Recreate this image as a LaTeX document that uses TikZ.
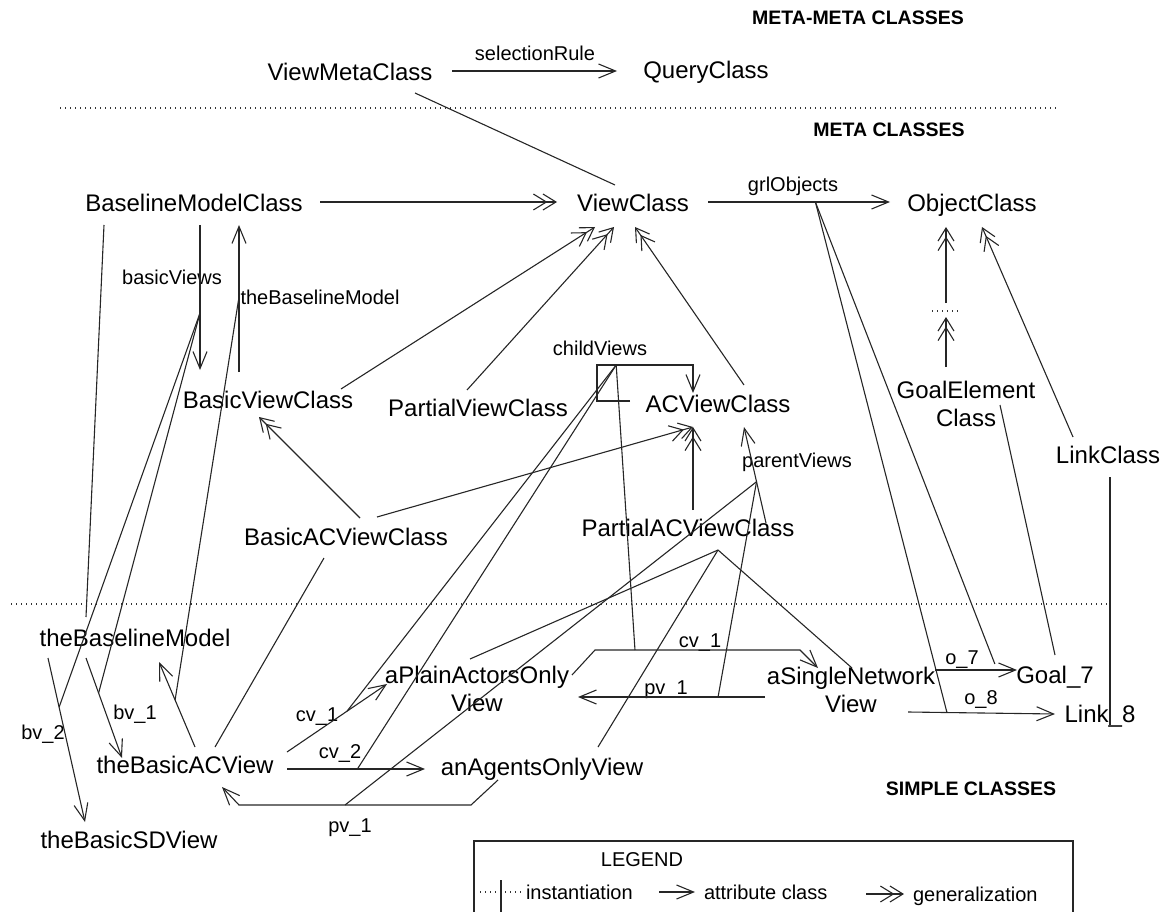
\documentclass[tikz,border=0pt]{standalone}
\usepackage{fontspec}
\setmainfont{Liberation Sans}
\usetikzlibrary{arrows.meta}
\begin{document}
\begin{tikzpicture}[x=1pt,y=-1pt,
  every node/.style={inner sep=0pt, outer sep=0pt},
  cls/.style={font=\fontsize{24}{28}\selectfont, text height=17pt, text depth=0pt},
  cls2/.style={font=\fontsize{24}{28}\selectfont, align=center},
  lbl/.style={font=\fontsize{20}{24}\selectfont, text height=14pt, text depth=0pt},
  hdr/.style={font=\fontsize{19.5}{23}\selectfont\bfseries, text height=14pt, text depth=0pt},
  con/.style={line width=1.1pt, color=black!85},
  attr/.style={con, -{Straight Barb[length=17pt,width=14pt]}},
  gen/.style={con, -{Straight Barb[length=13pt,width=16pt,sep=-5pt]Straight Barb[length=13pt,width=16pt]}},
  inst/.style={con},
  level/.style={line width=1.3pt, color=black!80, dash pattern=on 1.3pt off 3.7pt},
]
\useasboundingbox (0,0) rectangle (1170,912);

% level headings
\node[hdr] (hMM) at (858,18) {META-META CLASSES};
\node[hdr] (hM)  at (889,130) {META CLASSES};
\node[hdr] (hS)  at (971,788) {SIMPLE CLASSES};

% level separators
\draw[level] (60,108) -- (1058,108);
\draw[level] (11,604) -- (1107,604);

% classes
\node[cls] (vmc)   at (350,72)  {ViewMetaClass};
\node[cls] (qc)    at (706,70)  {QueryClass};
\node[cls] (bmc)   at (194,203) {BaselineModelClass};
\node[cls] (vc)    at (633,203) {ViewClass};
\node[cls] (oc)    at (972,203) {ObjectClass};
\node[cls] (bvc)   at (268,400) {BasicViewClass};
\node[cls] (pvc)   at (478,408) {PartialViewClass};
\node[cls] (acvc)  at (718,404) {ACViewClass};
\node[cls2] (gec)  at (966,404) {GoalElement\\Class};
\node[cls] (lc)    at (1108,455) {LinkClass};
\node[cls] (bacvc) at (346,537) {BasicACViewClass};
\node[cls] (pacvc) at (688,528) {PartialACViewClass};
\node[cls] (tbm)   at (135,638) {theBaselineModel};
\node[cls2] (papv) at (477,689) {aPlainActorsOnly\\View};
\node[cls2] (asnv) at (851,690) {aSingleNetwork\\View};
\node[cls] (g7)    at (1055,675) {Goal\_7};
\node[cls] (l8)    at (1100,714) {Link\_8};
\node[cls] (tbacv) at (185,765) {theBasicACView};
\node[cls] (aaov)  at (542,767) {anAgentsOnlyView};
\node[cls] (tbsdv) at (129,840) {theBasicSDView};

% attribute labels
\node[lbl] (lSel) at (535,54)  {selectionRule};
\node[lbl] (lGrl) at (793,185) {grlObjects};
\node[lbl] (lBv)  at (172,277) {basicViews};
\node[lbl] (lTbm) at (320,297) {theBaselineModel};
\node[lbl] (lCv)  at (600,348) {childViews};
\node[lbl] (lPv)  at (797,460) {parentViews};
\node[lbl] (lBv1) at (135,712) {bv\_1};
\node[lbl] (lBv2) at (43,732)  {bv\_2};
\node[lbl] (lCv1) at (317,714) {cv\_1};
\node[lbl] (lCv2) at (340,751) {cv\_2};
\node[lbl] (lPv1) at (350,825) {pv\_1};
\node[lbl] (lCv3) at (700,640) {cv\_1};
\node[lbl] (lPv2) at (666,687) {pv\_1};
\node[lbl] (lO7)  at (962,657) {o\_7};
\node[lbl] (lO8)  at (981,697) {o\_8};

% omitted intermediate class between GoalElementClass and ObjectClass
\coordinate (omit) at (946,311);
\draw[level, line width=1.1pt] ([xshift=-14pt]omit) -- ([xshift=14pt]omit);

% attribute classes and their instances
\draw[attr] ([shift={(102,-1)}]vmc.center) -- ([shift={(-89,1)}]qc.center);
\draw[attr] ([shift={(75,-1)}]vc.center) -- ([shift={(-82,-1)}]oc.center) coordinate[pos=0.59] (grlPt);
\draw[attr] ([shift={(6,22)}]bmc.center) -- ([shift={(-68,-30)}]bvc.center) coordinate[pos=0.607] (bvPt);
\draw[attr] ([shift={(-29,-28)}]bvc.center) -- ([shift={(45,22)}]bmc.center) coordinate[pos=0.51] (tbmPt);
\draw[attr] ([shift={(-88,-3)}]acvc.center) -- ++(-33,0) -- ++(0,-36)
  -- ++(96,0) coordinate[pos=0.2] (cvPt) -- ([shift={(-25,-11)}]acvc.center);
\draw[attr] ([shift={(78,-5)}]pacvc.center) -- ([shift={(26,23)}]acvc.center) coordinate[pos=0.43] (pvPt);
\draw[attr] ([shift={(-49,20)}]tbm.center) -- ([shift={(-63,-7)}]tbacv.center) coordinate[pos=0.35] (bv1Pt);
\draw[attr] ([shift={(-87,20)}]tbm.center) -- ([shift={(-44,-18)}]tbsdv.center) coordinate[pos=0.3] (bv2Pt);
\draw[attr] ([shift={(10,-18)}]tbacv.center) -- ([shift={(24,24)}]tbm.center) coordinate[pos=0.553] (tbmiPt);
\draw[attr] ([shift={(102,-13)}]tbacv.center) -- ([shift={(-90,-5)}]papv.center) coordinate[pos=0.6] (cv1aPt);
\draw[attr] ([shift={(102,4)}]tbacv.center) -- ([shift={(-117,2)}]aaov.center) coordinate[pos=0.51] (cv2Pt);
\draw[attr] ([shift={(-44,13)}]aaov.center) -- ++(-27,25) -- ++(-232,0) coordinate[pos=0.543] (pv1aPt)
  -- ([shift={(37,22)}]tbacv.center);
\draw[attr] ([shift={(95,-14)}]papv.center) -- ++(23,-25) -- ++(205,0) coordinate[pos=0.195] (cv1bPt)
  -- ([shift={(-33,-22)}]asnv.center);
\draw[attr] ([shift={(-86,7)}]asnv.center) -- ([shift={(101,8)}]papv.center) coordinate[pos=0.251] (pv1bPt);
\draw[attr] ([shift={(84,-20)}]asnv.center) -- ([shift={(-38,-5)}]g7.center) coordinate[pos=0.73] (o7Pt);
\draw[attr] ([shift={(57,22)}]asnv.center) -- ([shift={(-45,0)}]l8.center) coordinate[pos=0.265] (o8Pt);

% generalizations
\draw[gen] ([shift={(126,-1)}]bmc.center) -- ([shift={(-76,-1)}]vc.center);
\draw[gen] ([shift={(73,-11)}]bvc.center) -- ([shift={(-38,24)}]vc.center);
\draw[gen] ([shift={(-11,-18)}]pvc.center) -- ([shift={(-19,24)}]vc.center);
\draw[gen] ([shift={(26,-19)}]acvc.center) -- ([shift={(2,24)}]vc.center);
\draw[gen] ([shift={(14,-19)}]bacvc.center) -- ([shift={(-9,17)}]bvc.center);
\draw[gen] ([shift={(31,-20)}]bacvc.center) -- ([shift={(-25,23)}]acvc.center);
\draw[gen] ([shift={(5,-18)}]pacvc.center) -- ([shift={(-25,23)}]acvc.center);
\draw[gen] ([shift={(-20,-37)}]gec.center) -- ([yshift=-6pt]omit);
\draw[gen] ([yshift=8pt]omit) -- ([shift={(-26,24)}]oc.center);
\draw[gen] ([shift={(-35,-18)}]lc.center) -- ([shift={(10,24)}]oc.center);

% instantiations
\draw[inst] ([shift={(65,21)}]vmc.center) -- ([shift={(-18,-18)}]vc.center);
\draw[inst] ([shift={(-90,22)}]bmc.center) -- ([shift={(-49,-21)}]tbm.center);
\draw[inst] (bvPt) -- (bv2Pt);
\draw[inst] (bvPt) -- (bv1Pt);
\draw[inst] (tbmPt) -- (tbmiPt);
\draw[inst] ([shift={(-22,21)}]bacvc.center) -- ([shift={(30,-18)}]tbacv.center);
\draw[inst] (cvPt) -- (cv1aPt);
\draw[inst] (cvPt) -- (cv2Pt);
\draw[inst] (cvPt) -- (cv1bPt);
\draw[inst] (pvPt) -- (pv1aPt);
\draw[inst] (pvPt) -- (pv1bPt);
\coordinate (pacPt) at ([shift={(30,22)}]pacvc.center);
\draw[inst] (pacPt) -- ([shift={(-7,-30)}]papv.center);
\draw[inst] (pacPt) -- ([shift={(56,-20)}]aaov.center);
\draw[inst] (pacPt) -- ([shift={(1,-22)}]asnv.center);
\draw[inst] (grlPt) -- (o8Pt);
\draw[inst] (grlPt) -- ([yshift=6pt]o7Pt);
\draw[inst] ([shift={(34,1)}]gec.center) -- ([shift={(0,-20)}]g7.center);
\draw[inst] ([shift={(2,22)}]lc.center) -- ([shift={(10,11)}]l8.center);

% legend
\draw[con] (474,916) -- (474,841) -- (1073,841) -- (1073,916);
\node[lbl] (legT) at (642,859) {LEGEND};
\draw[level, line width=1.1pt] (480,892) -- (522,892);
\draw[con] (501,880) -- (501,916);
\node[lbl, anchor=west] (legI) at (526,892) {instantiation};
\draw[attr] (659,892) -- (695,892);
\node[lbl, anchor=west] (legA) at (704,892) {attribute class};
\draw[gen] (866,894) -- (904,894);
\node[lbl, anchor=west] (legG) at (913,894) {generalization};
\end{tikzpicture}
\end{document}
